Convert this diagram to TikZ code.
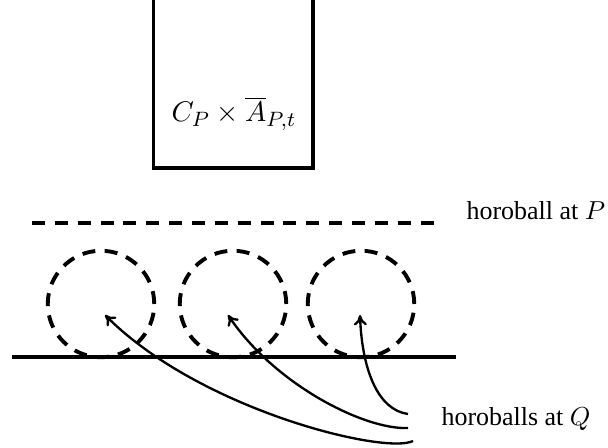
\documentclass[tikz,border=0pt]{standalone}
\usepackage{fontspec}
\setmainfont{Liberation Serif}
\usetikzlibrary{arrows.meta}
\begin{document}
\begin{tikzpicture}[x=0.385pt,y=-0.385pt,
  thickline/.style={line width=1.5pt},
  dashline/.style={line width=1.5pt,dash pattern=on 5pt off 3.8pt},
  ball/.style={circle,draw,line width=1.5pt,dash pattern=on 5pt off 3.6pt,minimum size=41pt,inner sep=0pt},
  conn/.style={line width=0.9pt,-{To[length=4pt,width=5pt]}},
  lab/.style={inner sep=0pt,anchor=base west,font=\fontsize{10}{12}\selectfont}]
\useasboundingbox (0,0) rectangle (608,448);
% box
\coordinate (bl) at (153.5,0);
\coordinate (br) at (313,0);
\draw[thickline,line cap=rect] (bl) -- (153.5,168) -- (313,168) -- (br);
\node[inner sep=0pt,anchor=base,font=\fontsize{11}{13}\selectfont] (cp) at (234,122) {$C_P\times\overline{A}_{P,t}$};
% horoball at P
\coordinate (ha) at (32,223);
\coordinate (hb) at (437,223);
\draw[dashline] (ha) -- (hb);
\node[lab] (lp) at (466,220) {horoball at $P$};
% ground
\coordinate (ga) at (12,357);
\coordinate (gb) at (456,357);
\draw[thickline] (ga) -- (gb);
% horoballs
\node[ball] (b1) at (101,304) {};
\node[ball] (b2) at (233,304) {};
\node[ball] (b3) at (361,304) {};
\coordinate (t1) at (105,315);
\coordinate (t2) at (228,315);
\coordinate (t3) at (360,315);
\coordinate (s1) at (413,441);
\coordinate (s2) at (408,428);
\coordinate (s3) at (408,414);
\node[lab] (lq) at (441,425) {horoballs at $Q$};
\draw[conn] (s1) .. controls (385,455) and (200,410) .. (t1);
\draw[conn] (s2) .. controls (365,430) and (275,385) .. (t2);
\draw[conn] (s3) .. controls (378,410) and (362,370) .. (t3);
\end{tikzpicture}
\end{document}
